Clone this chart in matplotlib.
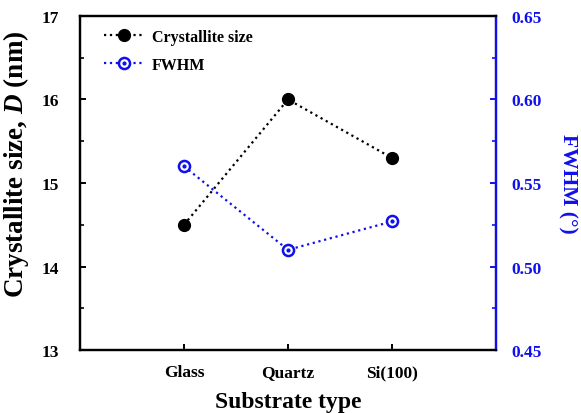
import matplotlib.pyplot as plt
from matplotlib.legend_handler import HandlerTuple
from matplotlib.ticker import MultipleLocator

plt.rcParams['font.family'] = 'Liberation Serif'
plt.rcParams['font.weight'] = 'bold'
plt.rcParams['axes.labelweight'] = 'bold'
plt.rcParams['mathtext.fontset'] = 'custom'
plt.rcParams['mathtext.rm'] = 'Liberation Serif:bold'
plt.rcParams['mathtext.it'] = 'Liberation Serif:italic:bold'

substrates = ['Glass', 'Quartz', 'Si(100)']
crystallite = [14.5, 16.0, 15.3]
fwhm = [0.560, 0.510, 0.527]
xpos = [1, 2, 3]

blue = '#1010ee'

fig = plt.figure(figsize=(5.81, 4.14), dpi=100)
ax = fig.add_axes([0.1377, 0.152, 0.716, 0.807])
ax2 = ax.twinx()

l1, = ax.plot(xpos, crystallite, color='black', ls=':', lw=1.6,
              marker='o', ms=8.5, zorder=3)
l2, = ax2.plot(xpos, fwhm, color=blue, ls=':', lw=1.6,
               marker='o', ms=8, mfc='white', mew=1.8)
d2, = ax2.plot(xpos, fwhm, color=blue, ls='none', marker='o', ms=2)

ax.set_xlim(0, 4)
ax.set_ylim(13, 17)
ax2.set_ylim(0.45, 0.65)
ax.set_xticks(xpos)
ax.set_xticklabels(substrates)
ax.yaxis.set_major_locator(MultipleLocator(1))
ax.yaxis.set_minor_locator(MultipleLocator(0.5))
ax2.yaxis.set_major_locator(MultipleLocator(0.05))
ax2.yaxis.set_minor_locator(MultipleLocator(0.025))
ax2.yaxis.set_major_formatter(plt.FormatStrFormatter('%.2f'))

for a in (ax, ax2):
    for s in a.spines.values():
        s.set_linewidth(1.6)
ax2.spines['right'].set_color(blue)

ax.tick_params(axis='both', which='both', direction='in', labelsize=12.5)
ax.tick_params(axis='x', pad=10)
ax.tick_params(axis='y', pad=15)
ax.tick_params(which='major', length=4, width=1.4)
ax.tick_params(which='minor', length=3, width=1.2)
ax2.tick_params(axis='y', which='both', direction='in', colors=blue,
                labelsize=12.5, pad=11)
ax2.tick_params(which='major', length=4, width=1.4)
ax2.tick_params(which='minor', length=3, width=1.2)

ax.set_xlabel('Substrate type', fontsize=17, labelpad=8)
ax.set_ylabel('Crystallite size, $D$ (nm)', fontsize=19.5)
ax.yaxis.set_label_coords(-0.118, 0.56)
ax2.set_ylabel('FWHM (°)', fontsize=15.5, color=blue, rotation=270,
               labelpad=26)

ax.legend([l1, (l2, d2)], ['Crystallite size', 'FWHM'],
          handler_map={tuple: HandlerTuple(ndivide=1, pad=0)},
          loc='upper left', bbox_to_anchor=(0.03, 0.995), frameon=False,
          fontsize=11.5, handlelength=2.6, handletextpad=0.4,
          borderaxespad=0.3, labelspacing=0.75)

fig.savefig('out.png', dpi=100)
